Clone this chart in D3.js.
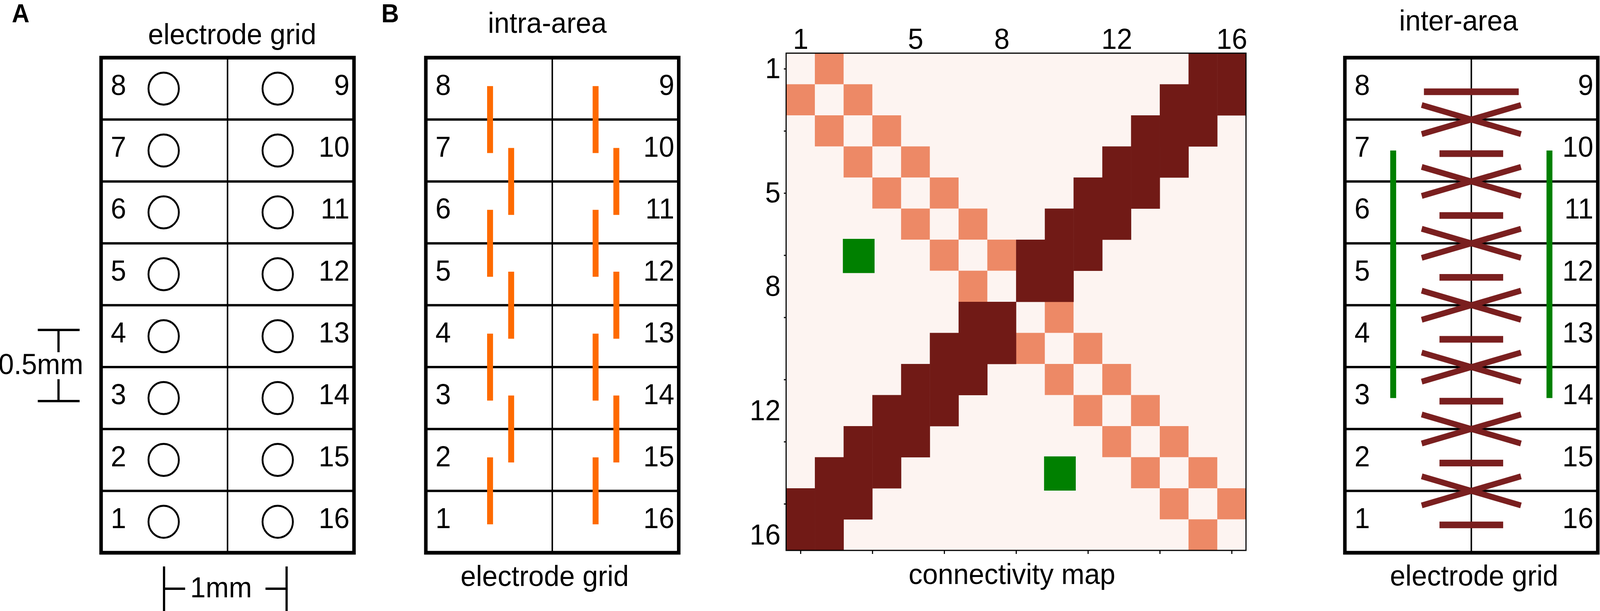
<!DOCTYPE html>
<html lang="en">
<head>
<meta charset="utf-8">
<script src="https://d3js.org/d3.v7.min.js"></script>
<title>Electrode grid connectivity</title>
<style>
  html, body { margin: 0; padding: 0; background: #fff; overflow: hidden; }
  svg { display: block; }
  text { font-family: "Liberation Sans", Arial, Helvetica, sans-serif; fill: #000; }
</style>
</head>
<body>
<div id="figure"></div>
<script>
// electrode layout, top row first
var leftColumn  = [8, 7, 6, 5, 4, 3, 2, 1];
var rightColumn = [9, 10, 11, 12, 13, 14, 15, 16];
var electrodes  = [1, 2, 3, 4, 5, 6, 7, 8, 9, 10, 11, 12, 13, 14, 15, 16];

// neighbours inside one column (orange)
var intraLinks = [[8, 7], [7, 6], [6, 5], [5, 4], [4, 3], [3, 2], [2, 1],
                  [9, 10], [10, 11], [11, 12], [12, 13], [13, 14], [14, 15], [15, 16]];

// links across the two columns (dark red)
var interLinks = [[8, 9], [7, 10], [6, 11], [5, 12], [4, 13], [3, 14], [2, 15], [1, 16],
                  [8, 10], [7, 9], [7, 11], [6, 10], [6, 12], [5, 11], [5, 13], [4, 12],
                  [4, 14], [3, 13], [3, 15], [2, 14], [2, 16], [1, 15]];

// long range links (green) and the map cells marking them, [row, column]
var longLinks = [[7, 3], [10, 14]];
var longCells = [[7, 3], [14, 10]];

var mapLabels = [1, 5, 8, 12, 16];
var mapTicksX = [1, 3.5, 6, 8.5, 11, 13.5, 16];
var mapTicksY = [1, 3, 5, 7, 9, 11, 13, 15];

var width = 4321, height = 1563;
var fs = 75;
var boxTop = 147.5, boxBottom = 1414, boxW = 683;
var orange = "#fe6a00", darkRed = "#7a1f1f", green = "#008000";
var mapBg = "#fdf4f1", mapIntra = "#ed8966", mapInter = "#711a16";

// drawing space is fixed, the svg is stretched to the window
var svg = d3.select("#figure")
    .append("svg")
        .attr("viewBox", "0 0 " + width + " " + height)
        .attr("preserveAspectRatio", "none")
        .style("width", "100vw")
        .style("height", "100vh");

svg.append("rect")
    .attr("width", width)
    .attr("height", height)
    .attr("fill", "#fff");

var row = d3.scaleBand()
    .domain(d3.range(leftColumn.length))
    .range([boxTop, boxBottom]);

function isLeft(e) { return leftColumn.indexOf(e) >= 0; }
function rowIndex(e) { return isLeft(e) ? leftColumn.indexOf(e) : rightColumn.indexOf(e); }
function cy(e) { return row(rowIndex(e)) + row.bandwidth() / 2; }

function label(txt, x, y, anchor, size, weight) {
    return svg.append("text")
        .attr("x", x)
        .attr("y", y)
        .attr("text-anchor", anchor || "middle")
        .attr("font-size", size || fs)
        .attr("font-weight", weight || "normal")
        .text(txt);
}

// one 2 x 8 electrode grid box with its numbers
function drawGrid(x0) {
    var g = svg.append("g");

    g.selectAll(".sep")
        .data(d3.range(1, leftColumn.length))
        .enter()
            .append("line")
            .attr("x1", x0)
            .attr("x2", x0 + boxW)
            .attr("y1", function(d) { return row(d); })
            .attr("y2", function(d) { return row(d); })
            .attr("stroke", "#000")
            .attr("stroke-width", 6);

    g.append("line")
        .attr("x1", x0 + boxW / 2)
        .attr("x2", x0 + boxW / 2)
        .attr("y1", boxTop)
        .attr("y2", boxBottom)
        .attr("stroke", "#000")
        .attr("stroke-width", 4);

    g.append("rect")
        .attr("x", x0)
        .attr("y", boxTop)
        .attr("width", boxW)
        .attr("height", boxBottom - boxTop)
        .attr("fill", "none")
        .attr("stroke", "#000")
        .attr("stroke-width", 9.5);

    g.selectAll(".lnum")
        .data(leftColumn)
        .enter()
            .append("text")
            .attr("x", x0 + 26)
            .attr("y", function(d) { return cy(d) + 16; })
            .attr("font-size", fs)
            .text(function(d) { return d; });

    g.selectAll(".rnum")
        .data(rightColumn)
        .enter()
            .append("text")
            .attr("x", x0 + boxW - 12)
            .attr("y", function(d) { return cy(d) + 16; })
            .attr("text-anchor", "end")
            .attr("font-size", fs)
            .text(function(d) { return d; });

    return g;
}

// ---------- A: electrode grid ----------
var xA = 273;
var gA = drawGrid(xA);
gA.selectAll("circle")
    .data(electrodes)
    .enter()
        .append("circle")
        .attr("cx", function(d) { return xA + (isLeft(d) ? 169 : 477); })
        .attr("cy", function(d) { return cy(d); })
        .attr("r", 41)
        .attr("fill", "none")
        .attr("stroke", "#000")
        .attr("stroke-width", 5);

label("A", 32, 57, "start", 66, "bold");
label("electrode grid", 627, 113);

// scale bars
var bars = svg.append("g").attr("stroke", "#000").attr("stroke-width", 6);
[[158, 844, 158, 901], [158, 970, 158, 1026], [102, 844, 215, 844], [102, 1026, 215, 1026],
 [443, 1506, 500, 1506], [717, 1506, 774, 1506], [443, 1449, 443, 1570], [774, 1449, 774, 1570]]
    .forEach(function(s) {
        bars.append("line").attr("x1", s[0]).attr("y1", s[1]).attr("x2", s[2]).attr("y2", s[3]);
    });
label("0.5mm", 225, 957, "end");
label("1mm", 597, 1528);

// ---------- B: intra-area ----------
var xB = 1150, midB = xB + boxW / 2;
var gB = drawGrid(xB);
var intraX = { left: [-168, -111], right: [117, 173] };
function intraPos(d) {
    var top = Math.min(rowIndex(d[0]), rowIndex(d[1]));
    return midB + intraX[isLeft(d[0]) ? "left" : "right"][top % 2];
}
gB.selectAll(".intra")
    .data(intraLinks)
    .enter()
        .append("line")
        .attr("x1", intraPos)
        .attr("x2", intraPos)
        .attr("y1", function(d) { return Math.min(cy(d[0]), cy(d[1])) - 6.5; })
        .attr("y2", function(d) { return Math.max(cy(d[0]), cy(d[1])) + 6.5; })
        .attr("stroke", orange)
        .attr("stroke-width", 16);

label("B", 1030, 57, "start", 66, "bold");
label("intra-area", 1478, 84);
label("electrode grid", 1471, 1499);

// ---------- connectivity map ----------
var mx = d3.scaleBand().domain(electrodes).range([2123, 3365]);
var my = d3.scaleBand().domain(electrodes).range([136, 1408]);
var mxl = d3.scaleLinear().domain([0.5, 16.5]).range([2123, 3365]);
var myl = d3.scaleLinear().domain([0.5, 16.5]).range([136, 1408]);

var gM = svg.append("g");
gM.append("rect")
    .attr("x", 2123).attr("y", 136)
    .attr("width", 3365 - 2123).attr("height", 1408 - 136)
    .attr("fill", mapBg);

function symmetric(links) {
    var cells = [];
    links.forEach(function(l) { cells.push([l[0], l[1]], [l[1], l[0]]); });
    return cells;
}

gM.selectAll(".intra")
    .data(symmetric(intraLinks))
    .enter()
        .append("rect")
        .attr("x", function(d) { return mx(d[1]); })
        .attr("y", function(d) { return my(d[0]); })
        .attr("width", mx.bandwidth())
        .attr("height", my.bandwidth())
        .attr("fill", mapIntra);

gM.selectAll(".inter")
    .data(symmetric(interLinks))
    .enter()
        .append("rect")
        .attr("x", function(d) { return mx(d[1]); })
        .attr("y", function(d) { return my(d[0]); })
        .attr("width", mx.bandwidth() + 0.5)
        .attr("height", my.bandwidth() + 0.5)
        .attr("fill", mapInter);

gM.selectAll(".long")
    .data(longCells)
    .enter()
        .append("rect")
        .attr("x", function(d) { return mx(d[1]) - 2; })
        .attr("y", function(d) { return my(d[0]) - 2; })
        .attr("width", mx.bandwidth() + 8)
        .attr("height", my.bandwidth() + 8)
        .attr("fill", green);

gM.append("rect")
    .attr("x", 2123).attr("y", 136)
    .attr("width", 3365 - 2123).attr("height", 1408 - 136)
    .attr("fill", "none")
    .attr("stroke", "#000")
    .attr("stroke-width", 3);

function styleAxis(g) {
    g.select(".domain").remove();
    g.attr("font-size", fs).attr("font-family", "'Liberation Sans', Arial, sans-serif");
    g.selectAll(".tick line").attr("stroke-width", 3);
    g.selectAll(".tick text").attr("fill", "#000");
}

svg.append("g")
    .attr("transform", "translate(0,136)")
    .call(d3.axisTop(mxl).tickValues(mapLabels).tickSize(0).tickPadding(11))
    .call(styleAxis);

svg.append("g")
    .attr("transform", "translate(2123,0)")
    .call(d3.axisLeft(myl).tickValues(mapLabels).tickSize(0).tickPadding(15))
    .call(styleAxis);

svg.append("g")
    .attr("transform", "translate(0,1408)")
    .call(d3.axisBottom(mxl).tickValues(mapTicksX).tickSize(9).tickFormat(""))
    .call(styleAxis);

svg.append("g")
    .attr("transform", "translate(2123,0)")
    .call(d3.axisLeft(myl).tickValues(mapTicksY).tickSize(6).tickFormat(""))
    .call(styleAxis);

label("connectivity map", 2733, 1494);

// ---------- inter-area ----------
var xC = 3632, midC = xC + boxW / 2;
var gC = drawGrid(xC);

gC.selectAll(".long")
    .data(longLinks)
    .enter()
        .append("line")
        .attr("x1", function(d) { return midC + (isLeft(d[0]) ? -211 : 211); })
        .attr("x2", function(d) { return midC + (isLeft(d[0]) ? -211 : 211); })
        .attr("y1", function(d) { return cy(d[0]); })
        .attr("y2", function(d) { return cy(d[1]); })
        .attr("stroke", green)
        .attr("stroke-width", 16);

var sameRow = interLinks.filter(function(d) { return rowIndex(d[0]) === rowIndex(d[1]); });
var crossRow = interLinks.filter(function(d) { return rowIndex(d[0]) !== rowIndex(d[1]); });

gC.selectAll(".hbar")
    .data(sameRow)
    .enter()
        .append("line")
        .attr("x1", function(d) { return midC - (rowIndex(d[0]) === 0 ? 128 : 86); })
        .attr("x2", function(d) { return midC + (rowIndex(d[0]) === 0 ? 128 : 86); })
        .attr("y1", function(d) { return cy(d[0]) + 8; })
        .attr("y2", function(d) { return cy(d[0]) + 8; })
        .attr("stroke", darkRed)
        .attr("stroke-width", 17);

function crossY(a, b) {
    var m = (cy(a) + cy(b)) / 2;
    return m + (cy(a) - m) * 0.47;
}
gC.selectAll(".xbar")
    .data(crossRow)
    .enter()
        .append("line")
        .attr("x1", midC - 134)
        .attr("x2", midC + 134)
        .attr("y1", function(d) { return crossY(d[0], d[1]); })
        .attr("y2", function(d) { return crossY(d[1], d[0]); })
        .attr("stroke", darkRed)
        .attr("stroke-width", 15);

label("inter-area", 3939, 78);
label("electrode grid", 3981, 1498);
</script>
</body>
</html>
